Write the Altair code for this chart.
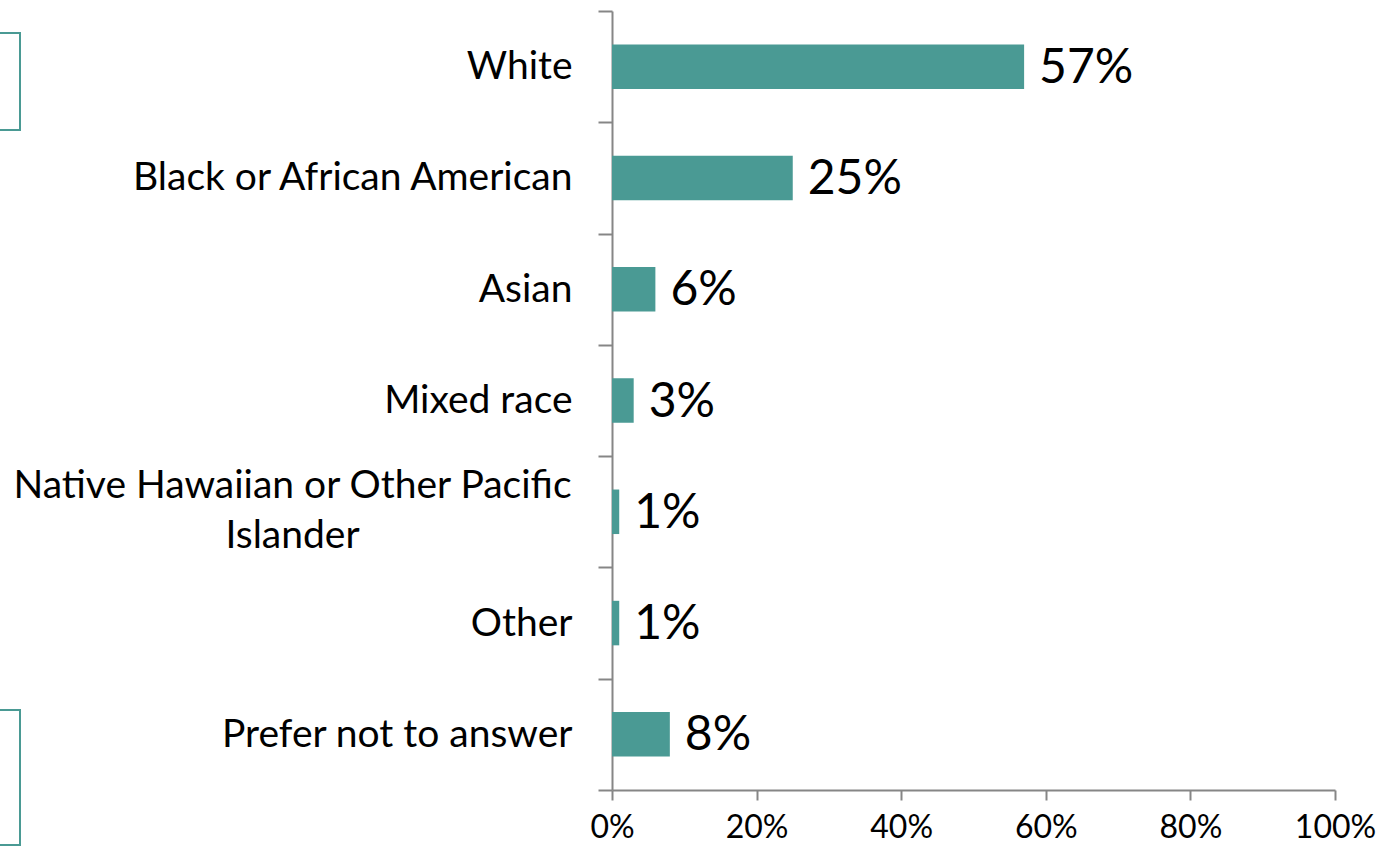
import altair as alt
import pandas as pd

categories = [
    "White",
    "Black or African American",
    "Asian",
    "Mixed race",
    "Native Hawaiian or Other Pacific Islander",
    "Other",
    "Prefer not to answer",
]
values = [57, 25, 6, 3, 1, 1, 8]
labels = ["57%", "25%", "6%", "3%", "1%", "1%", "8%"]

df = pd.DataFrame({"cat": categories, "val": values, "lab": labels})

TEAL = "#4a9a94"
GRAY = "#868686"
FONT = "Lato"
LONG = "Native Hawaiian or Other Pacific Islander"
TEST = "datum.value == '" + LONG + "'"

y_enc = alt.Y(
    "cat:N",
    sort=categories,
    scale=alt.Scale(paddingInner=0, paddingOuter=0),
    axis=alt.Axis(
        title=None,
        tickBand="extent",
        tickSize=14,
        tickWidth=2,
        tickColor=GRAY,
        domainColor=GRAY,
        domainWidth=2,
        labelFont=FONT,
        labelFontSize=39,
        labelColor="black",
        labelPadding={"condition": {"test": TEST, "value": 306}, "value": 26},
        labelAlign={"condition": {"test": TEST, "value": "center"}, "value": "right"},
        labelOffset={"condition": {"test": TEST, "value": -26}, "value": 0},
        labelLimit=700,
        labelExpr="datum.value == '" + LONG + "' ? ['Native Hawaiian or Other Pacific', 'Islander'] : datum.value",
        labelLineHeight=50,
    ),
)

x_enc = alt.X(
    "val:Q",
    scale=alt.Scale(domain=[0, 100]),
    axis=alt.Axis(
        title=None,
        values=[0, 20, 40, 60, 80, 100],
        labelExpr="datum.value + '%'",
        grid=False,
        tickSize=10,
        tickWidth=2,
        tickColor=GRAY,
        domainColor=GRAY,
        domainWidth=2,
        labelFont=FONT,
        labelFontSize=32,
        labelColor="black",
        labelPadding=12,
        labelFlush=False,
    ),
)

bars = alt.Chart(df).mark_bar(color=TEAL, height={"band": 0.4}).encode(x=x_enc, y=y_enc)

text = alt.Chart(df).mark_text(
    align="left", baseline="middle", dx=15, dy=2, font=FONT, fontSize=48, color="black"
).encode(x="val:Q", y=alt.Y("cat:N", sort=categories), text="lab:N")

box1 = alt.Chart(df.head(1)).mark_rect(fill=None, stroke=TEAL, strokeWidth=2).encode(
    x=alt.value(-630), x2=alt.value(-592), y=alt.value(22), y2=alt.value(119)
)
box2 = alt.Chart(df.head(1)).mark_rect(fill=None, stroke=TEAL, strokeWidth=2).encode(
    x=alt.value(-630), x2=alt.value(-592), y=alt.value(699), y2=alt.value(834)
)

chart = (
    alt.layer(bars, text, box1, box2)
    .properties(
        width=723,
        height=779,
        autosize=alt.AutoSizeParams(type="none"),
        padding={"left": 612, "top": 11, "right": 48, "bottom": 64},
    )
    .configure_view(stroke=None)
)

chart.save("out.html", embed_options={"renderer": "svg", "actions": False})
